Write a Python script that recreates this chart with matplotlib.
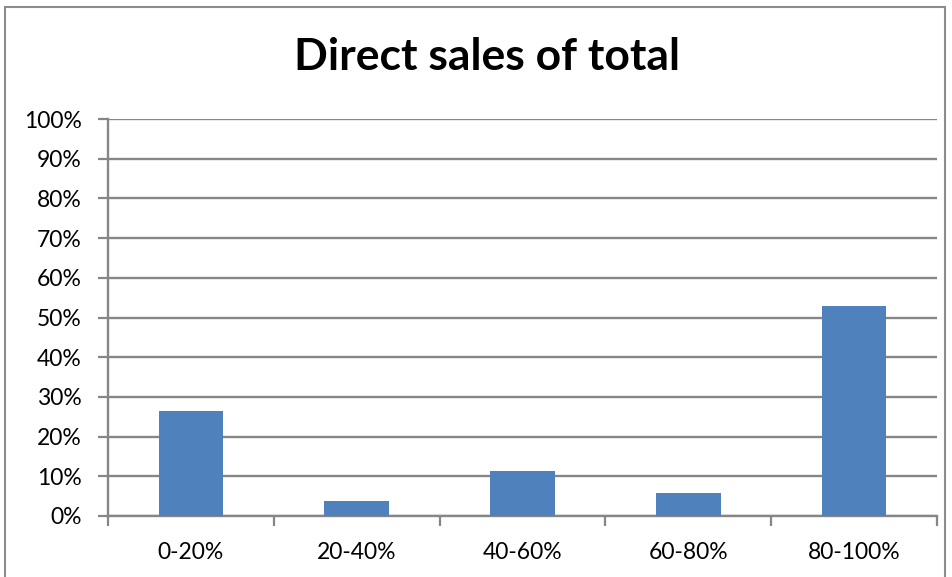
import matplotlib
matplotlib.use("Agg")
import matplotlib.pyplot as plt
from matplotlib.patches import Rectangle

categories = ["0-20%", "20-40%", "40-60%", "60-80%", "80-100%"]
values = [26.4, 3.8, 11.3, 5.7, 52.9]
yticks = [0, 10, 20, 30, 40, 50, 60, 70, 80, 90, 100]
ytick_labels = [f"{v}%" for v in yticks]
title = "Direct sales of total"

plt.rcParams['font.family'] = ['Lato', 'DejaVu Sans']

W, H = 952, 577
fig = plt.figure(figsize=(W / 100, H / 100), dpi=100)
ax = fig.add_axes([108 / W, 1 - 516 / H, (937 - 108) / W, (516 - 119) / H])

grid_c = "#868686"
x = list(range(len(categories)))
ax.bar(x, values, width=0.39, color="#4F81BD", zorder=3)
ax.set_xlim(-0.5, len(categories) - 0.5)
ax.set_ylim(0, 100)
ax.set_yticks(yticks)
ax.set_yticklabels(ytick_labels, fontsize=16.5)
ax.set_xticks(x)
ax.set_xticklabels(categories, fontsize=16.5)
ax.set_xticks([i - 0.5 for i in range(len(categories) + 1)], minor=True)
ax.tick_params(axis='x', which='major', length=0, pad=19)
ax.tick_params(axis='x', which='minor', length=7, width=1.6, color=grid_c, direction='out')
ax.tick_params(axis='y', length=7, width=1.6, color=grid_c, pad=12)
ax.yaxis.grid(True, color=grid_c, linewidth=1.7, zorder=0)
for s in ["top", "right"]:
    ax.spines[s].set_visible(False)
for s in ["left", "bottom"]:
    ax.spines[s].set_color(grid_c)
    ax.spines[s].set_linewidth(1.7)

fig.text(487 / W, 1 - 57 / H, title, fontsize=32, fontweight='bold', ha='center', va='center')

fig.add_artist(Rectangle((5 / W, -0.1), (945 - 5) / W, 1 - 7 / H + 0.1,
                         transform=fig.transFigure, fill=False, edgecolor="#8c8c8c", linewidth=1.5))

fig.savefig("out.png", dpi=100)
